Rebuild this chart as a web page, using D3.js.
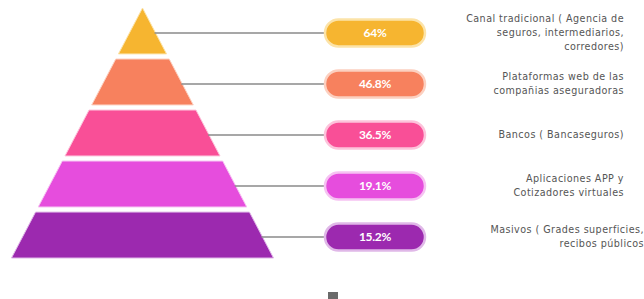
<!DOCTYPE html>
<html><head><meta charset="utf-8">
<script src="https://cdn.jsdelivr.net/npm/d3@7"></script>
<style>html,body{margin:0;padding:0;background:#fff;}svg{display:block;}</style>
</head><body>
<script>
const categories = [
  ["Canal tradicional ( Agencia de", "seguros, intermediarios,", "corredores)"],
  ["Plataformas web de las", "compañias aseguradoras"],
  ["Bancos ( Bancaseguros)"],
  ["Aplicaciones APP y", "Cotizadores virtuales"],
  ["Masivos ( Grades superficies,", "recibos públicos"]
];
const values = [64, 46.8, 36.5, 19.1, 15.2];
const valueLabels = ["64%", "46.8%", "36.5%", "19.1%", "15.2%"];
const colors = ["#F6B530", "#F7815E", "#F94F97", "#E64DDD", "#9C29AF"];
const glowColors = ["#FCE3A8", "#FCD0C0", "#FDC3DB", "#F6C2F2", "#E0B8E8"];

const W = 644, H = 299;
const svg = d3.select("body").append("svg").attr("width", W).attr("height", H);

const idx = d3.range(values.length);
const y = d3.scaleBand().domain(idx).range([8, 258]).paddingInner(0.1);
const cx = 142.5;
const half = d3.scaleLinear().domain([8, 258]).range([0, 131]);

// pyramid segments
svg.append("g").selectAll("path").data(idx).join("path")
  .attr("d", i => {
    const t = y(i), b = y(i) + y.bandwidth();
    const ht = half(t), hb = half(b);
    return `M${cx - ht},${t}L${cx + ht},${t}L${cx + hb},${b}L${cx - hb},${b}Z`;
  })
  .attr("fill", i => colors[i])
  .attr("stroke", i => glowColors[i])
  .attr("stroke-width", 1)
  .attr("stroke-linejoin", "round");

const pillX = 325, pillW = 100, pillH = 27;
const rowY = i => y(i) + y.bandwidth() / 2 + 2;

// connectors
svg.append("g").selectAll("line").data(idx).join("line")
  .attr("x1", i => cx + half(rowY(i)) - 1)
  .attr("x2", pillX)
  .attr("y1", rowY).attr("y2", rowY)
  .attr("stroke", "#8a8a8a").attr("stroke-width", 1.6);

// pills
const pills = svg.append("g").selectAll("g").data(idx).join("g");
pills.append("rect")
  .attr("x", pillX).attr("y", i => rowY(i) - pillH / 2)
  .attr("width", pillW).attr("height", pillH)
  .attr("rx", pillH / 2).attr("ry", pillH / 2)
  .attr("fill", i => colors[i])
  .attr("stroke", i => glowColors[i]).attr("stroke-width", 2.5);
pills.append("text")
  .attr("x", pillX + pillW / 2).attr("y", rowY)
  .attr("dy", "0.36em")
  .attr("text-anchor", "middle")
  .attr("fill", "#fff")
  .attr("font-family", "Lato, 'Noto Sans', sans-serif")
  .attr("font-weight", "bold")
  .attr("font-size", 12)
  .attr("letter-spacing", -0.3)
  .text(i => valueLabels[i]);

// category labels
const lh = 14;
const labels = svg.append("g").selectAll("text").data(idx).join("text")
  .attr("text-anchor", "end")
  .attr("fill", "#555")
  .attr("font-family", "'DejaVu Sans', sans-serif")
  .attr("font-size", 9.6)
  .attr("letter-spacing", 0.45);
labels.each(function(i) {
  const lines = categories[i];
  const rx = i === 4 ? 644 : 624;
  const y0 = rowY(i) - (lines.length - 1) * lh / 2;
  d3.select(this).selectAll("tspan").data(lines).join("tspan")
    .attr("x", rx)
    .attr("y", (d, k) => y0 + k * lh)
    .attr("dy", "0.35em")
    .text(d => d);
});

// small mark at bottom
svg.append("rect").attr("x", 328).attr("y", 292).attr("width", 10).attr("height", 7).attr("fill", "#6a6a6a");
</script>
</body></html>
